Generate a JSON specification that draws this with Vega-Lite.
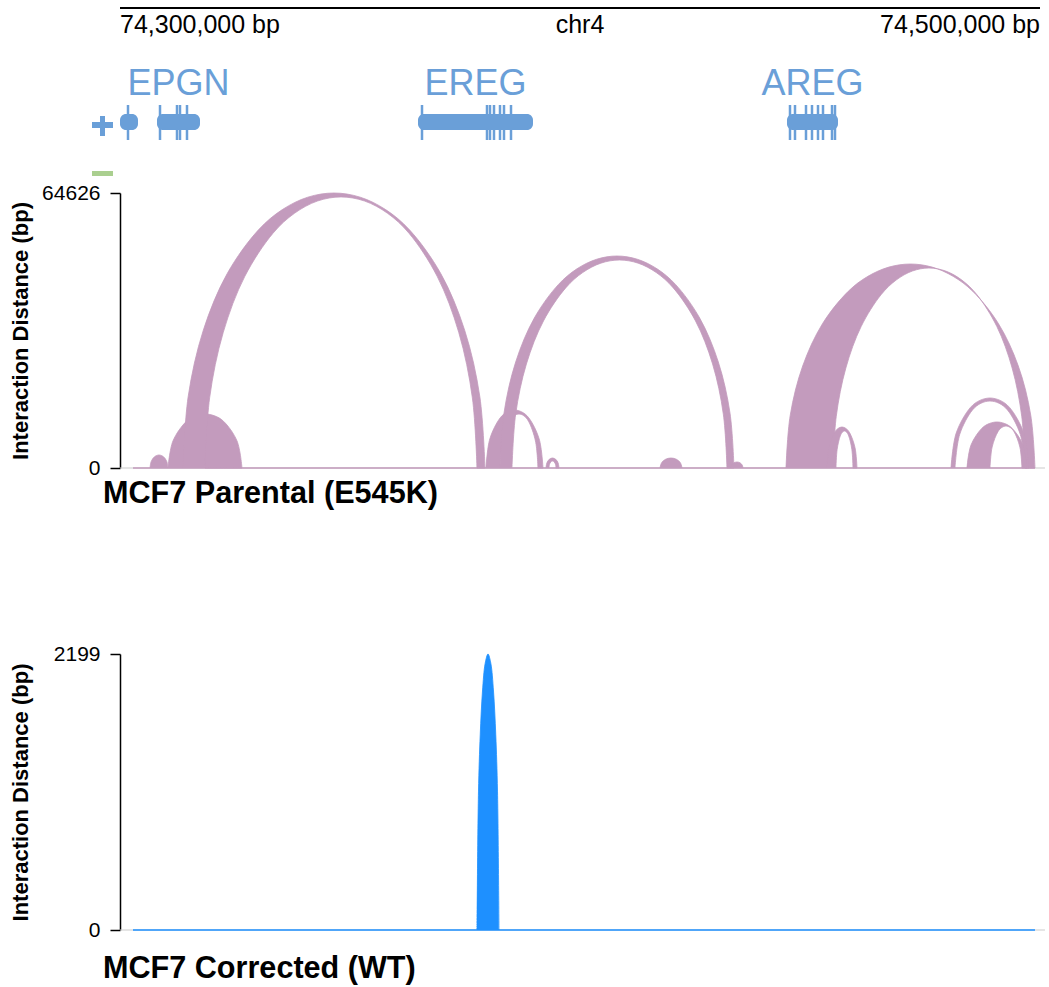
{
  "$schema": "https://vega.github.io/schema/vega-lite/v6.json",
  "width": 920,
  "height": 987,
  "autosize": {"type": "none"},
  "padding": {"left": 120, "top": 0, "right": 9, "bottom": 0},
  "background": "white",
  "config": {"view": {"stroke": null}, "font": "Liberation Sans"},
  "datasets": {
    "header": [
      {"pos": 74300000, "label": "74,300,000 bp"},
      {"pos": 74400000, "label": "chr4"},
      {"pos": 74500000, "label": "74,500,000 bp"}
    ],
    "genes": [
      {"gene": "EPGN", "start": 74308043, "end": 74317391, "mid": 74312717},
      {"gene": "EREG", "start": 74364782, "end": 74389782, "mid": 74377282},
      {"gene": "AREG", "start": 74444999, "end": 74456086, "mid": 74450543}
    ],
    "bodies": [
      {"start": 74300000, "end": 74303913},
      {"start": 74308043, "end": 74317391},
      {"start": 74364782, "end": 74389782},
      {"start": 74444999, "end": 74456086}
    ],
    "exonLines": [
      {"pos": 74301739}, {"pos": 74308696}, {"pos": 74312391}, {"pos": 74313043}, {"pos": 74314565},
      {"pos": 74365652}, {"pos": 74379782}, {"pos": 74380434}, {"pos": 74381304}, {"pos": 74382608}, {"pos": 74383478}, {"pos": 74385000},
      {"pos": 74445651}, {"pos": 74446738}, {"pos": 74449130}, {"pos": 74450434}, {"pos": 74451738}, {"pos": 74452826}, {"pos": 74454782}, {"pos": 74455434}
    ],
    "extras": [
      {"kind": "plus-h", "start": 74293913, "end": 74298478},
      {"kind": "plus-v", "start": 74295652, "end": 74296739},
      {"kind": "region", "start": 74293913, "end": 74298478}
    ],
    "baselines": [
      {"track": "parental", "start": 74302826, "end": 74498912},
      {"track": "corrected", "start": 74302826, "end": 74498912}
    ],
    "parental": [
      {"link": "a0", "pos": 74306521, "dist": 0}, {"link": "a0", "pos": 74306784, "dist": 1528}, {"link": "a0", "pos": 74307500, "dist": 2646}, {"link": "a0", "pos": 74308478, "dist": 3055}, {"link": "a0", "pos": 74309456, "dist": 2646}, {"link": "a0", "pos": 74310172, "dist": 1528}, {"link": "a0", "pos": 74310435, "dist": 0},

      {"link": "b", "pos": 74310435, "dist": 0}, {"link": "b", "pos": 74311512, "dist": 6345}, {"link": "b", "pos": 74314456, "dist": 10990}, {"link": "b", "pos": 74316396, "dist": 12257}, {"link": "b", "pos": 74318478, "dist": 12690}, {"link": "b", "pos": 74320560, "dist": 12257}, {"link": "b", "pos": 74322500, "dist": 10990}, {"link": "b", "pos": 74325444, "dist": 6345}, {"link": "b", "pos": 74326521, "dist": 0}, {"link": "b", "pos": 74326521, "dist": 0},
      {"link": "b", "pos": 74318479, "dist": 0}, {"link": "b", "pos": 74318479, "dist": 0}, {"link": "b", "pos": 74318173, "dist": 5640}, {"link": "b", "pos": 74317337, "dist": 9768}, {"link": "b", "pos": 74316787, "dist": 10895}, {"link": "b", "pos": 74316196, "dist": 11280}, {"link": "b", "pos": 74315605, "dist": 10895}, {"link": "b", "pos": 74315055, "dist": 9768}, {"link": "b", "pos": 74314219, "dist": 5640}, {"link": "b", "pos": 74313913, "dist": 0},

      {"link": "a1", "pos": 74313694, "dist": 0}, {"link": "a1", "pos": 74314813, "dist": 16725}, {"link": "a1", "pos": 74318093, "dist": 32313}, {"link": "a1", "pos": 74323309, "dist": 45697}, {"link": "a1", "pos": 74330107, "dist": 55966}, {"link": "a1", "pos": 74335294, "dist": 60729}, {"link": "a1", "pos": 74340821, "dist": 63644}, {"link": "a1", "pos": 74346520, "dist": 64626}, {"link": "a1", "pos": 74352219, "dist": 63644}, {"link": "a1", "pos": 74357746, "dist": 60729}, {"link": "a1", "pos": 74362933, "dist": 55966}, {"link": "a1", "pos": 74369731, "dist": 45697}, {"link": "a1", "pos": 74374947, "dist": 32313}, {"link": "a1", "pos": 74378227, "dist": 16725}, {"link": "a1", "pos": 74379346, "dist": 0}, {"link": "a1", "pos": 74379346, "dist": 0},
      {"link": "a1", "pos": 74377608, "dist": 0}, {"link": "a1", "pos": 74377608, "dist": 0}, {"link": "a1", "pos": 74376600, "dist": 16486}, {"link": "a1", "pos": 74373646, "dist": 31850}, {"link": "a1", "pos": 74368948, "dist": 45042}, {"link": "a1", "pos": 74362826, "dist": 55164}, {"link": "a1", "pos": 74358154, "dist": 59859}, {"link": "a1", "pos": 74353176, "dist": 62732}, {"link": "a1", "pos": 74348043, "dist": 63700}, {"link": "a1", "pos": 74342910, "dist": 62732}, {"link": "a1", "pos": 74337932, "dist": 59859}, {"link": "a1", "pos": 74333260, "dist": 55164}, {"link": "a1", "pos": 74327138, "dist": 45042}, {"link": "a1", "pos": 74322440, "dist": 31850}, {"link": "a1", "pos": 74319486, "dist": 16486}, {"link": "a1", "pos": 74318478, "dist": 0},

      {"link": "c", "pos": 74379564, "dist": 0}, {"link": "c", "pos": 74380394, "dist": 6815}, {"link": "c", "pos": 74382662, "dist": 11804}, {"link": "c", "pos": 74384157, "dist": 13165}, {"link": "c", "pos": 74385760, "dist": 13630}, {"link": "c", "pos": 74387363, "dist": 13165}, {"link": "c", "pos": 74388858, "dist": 11804}, {"link": "c", "pos": 74391126, "dist": 6815}, {"link": "c", "pos": 74391956, "dist": 0}, {"link": "c", "pos": 74391956, "dist": 0},
      {"link": "c", "pos": 74390869, "dist": 0}, {"link": "c", "pos": 74390869, "dist": 0}, {"link": "c", "pos": 74390316, "dist": 6345}, {"link": "c", "pos": 74388804, "dist": 10990}, {"link": "c", "pos": 74387808, "dist": 12257}, {"link": "c", "pos": 74386739, "dist": 12690}, {"link": "c", "pos": 74385670, "dist": 12257}, {"link": "c", "pos": 74384674, "dist": 10990}, {"link": "c", "pos": 74383162, "dist": 6345}, {"link": "c", "pos": 74382609, "dist": 0},

      {"link": "a2", "pos": 74382608, "dist": 0}, {"link": "a2", "pos": 74383475, "dist": 12893}, {"link": "a2", "pos": 74386016, "dist": 24910}, {"link": "a2", "pos": 74390058, "dist": 35228}, {"link": "a2", "pos": 74395326, "dist": 43144}, {"link": "a2", "pos": 74399344, "dist": 46816}, {"link": "a2", "pos": 74403627, "dist": 49063}, {"link": "a2", "pos": 74408043, "dist": 49820}, {"link": "a2", "pos": 74412459, "dist": 49063}, {"link": "a2", "pos": 74416742, "dist": 46816}, {"link": "a2", "pos": 74420760, "dist": 43144}, {"link": "a2", "pos": 74426028, "dist": 35228}, {"link": "a2", "pos": 74430070, "dist": 24910}, {"link": "a2", "pos": 74432611, "dist": 12893}, {"link": "a2", "pos": 74433478, "dist": 0}, {"link": "a2", "pos": 74433478, "dist": 0},
      {"link": "a2", "pos": 74431955, "dist": 0}, {"link": "a2", "pos": 74431955, "dist": 0}, {"link": "a2", "pos": 74431158, "dist": 12650}, {"link": "a2", "pos": 74428824, "dist": 24440}, {"link": "a2", "pos": 74425110, "dist": 34563}, {"link": "a2", "pos": 74420271, "dist": 42330}, {"link": "a2", "pos": 74416578, "dist": 45933}, {"link": "a2", "pos": 74412643, "dist": 48137}, {"link": "a2", "pos": 74408586, "dist": 48880}, {"link": "a2", "pos": 74404529, "dist": 48137}, {"link": "a2", "pos": 74400594, "dist": 45933}, {"link": "a2", "pos": 74396901, "dist": 42330}, {"link": "a2", "pos": 74392062, "dist": 34563}, {"link": "a2", "pos": 74388348, "dist": 24440}, {"link": "a2", "pos": 74386014, "dist": 12650}, {"link": "a2", "pos": 74385217, "dist": 0},

      {"link": "d", "pos": 74392608, "dist": 0}, {"link": "d", "pos": 74392797, "dist": 1175}, {"link": "d", "pos": 74393314, "dist": 2035}, {"link": "d", "pos": 74394021, "dist": 2350}, {"link": "d", "pos": 74394728, "dist": 2035}, {"link": "d", "pos": 74395245, "dist": 1175}, {"link": "d", "pos": 74395434, "dist": 0}, {"link": "d", "pos": 74395434, "dist": 0},
      {"link": "d", "pos": 74394782, "dist": 0}, {"link": "d", "pos": 74394782, "dist": 0}, {"link": "d", "pos": 74394680, "dist": 823}, {"link": "d", "pos": 74394401, "dist": 1425}, {"link": "d", "pos": 74394021, "dist": 1645}, {"link": "d", "pos": 74393641, "dist": 1425}, {"link": "d", "pos": 74393362, "dist": 823}, {"link": "d", "pos": 74393260, "dist": 0},

      {"link": "e", "pos": 74417391, "dist": 0}, {"link": "e", "pos": 74417711, "dist": 1175}, {"link": "e", "pos": 74418586, "dist": 2035}, {"link": "e", "pos": 74419782, "dist": 2350}, {"link": "e", "pos": 74420978, "dist": 2035}, {"link": "e", "pos": 74421853, "dist": 1175}, {"link": "e", "pos": 74422173, "dist": 0},

      {"link": "f", "pos": 74432826, "dist": 0}, {"link": "f", "pos": 74433001, "dist": 705}, {"link": "f", "pos": 74433478, "dist": 1221}, {"link": "f", "pos": 74434130, "dist": 1410}, {"link": "f", "pos": 74434782, "dist": 1221}, {"link": "f", "pos": 74435259, "dist": 705}, {"link": "f", "pos": 74435434, "dist": 0},

      {"link": "a3", "pos": 74444782, "dist": 0}, {"link": "a3", "pos": 74445705, "dist": 12407}, {"link": "a3", "pos": 74448409, "dist": 23970}, {"link": "a3", "pos": 74452709, "dist": 33898}, {"link": "a3", "pos": 74458314, "dist": 41516}, {"link": "a3", "pos": 74462591, "dist": 45049}, {"link": "a3", "pos": 74467148, "dist": 47211}, {"link": "a3", "pos": 74471847, "dist": 47940}, {"link": "a3", "pos": 74476546, "dist": 47211}, {"link": "a3", "pos": 74481103, "dist": 45049}, {"link": "a3", "pos": 74485380, "dist": 41516}, {"link": "a3", "pos": 74490985, "dist": 33898}, {"link": "a3", "pos": 74495285, "dist": 23970}, {"link": "a3", "pos": 74497989, "dist": 12407}, {"link": "a3", "pos": 74498912, "dist": 0}, {"link": "a3", "pos": 74498912, "dist": 0},
      {"link": "a3", "pos": 74496738, "dist": 0}, {"link": "a3", "pos": 74496738, "dist": 0}, {"link": "a3", "pos": 74496026, "dist": 12164}, {"link": "a3", "pos": 74493942, "dist": 23500}, {"link": "a3", "pos": 74490626, "dist": 33234}, {"link": "a3", "pos": 74486304, "dist": 40702}, {"link": "a3", "pos": 74483006, "dist": 44166}, {"link": "a3", "pos": 74479492, "dist": 46286}, {"link": "a3", "pos": 74475869, "dist": 47000}, {"link": "a3", "pos": 74472246, "dist": 46286}, {"link": "a3", "pos": 74468732, "dist": 44166}, {"link": "a3", "pos": 74465434, "dist": 40702}, {"link": "a3", "pos": 74461112, "dist": 33234}, {"link": "a3", "pos": 74457796, "dist": 23500}, {"link": "a3", "pos": 74455712, "dist": 12164}, {"link": "a3", "pos": 74455000, "dist": 0},

      {"link": "g", "pos": 74453695, "dist": 0}, {"link": "g", "pos": 74454132, "dist": 4818}, {"link": "g", "pos": 74455326, "dist": 8344}, {"link": "g", "pos": 74456112, "dist": 9306}, {"link": "g", "pos": 74456956, "dist": 9635}, {"link": "g", "pos": 74457800, "dist": 9306}, {"link": "g", "pos": 74458586, "dist": 8344}, {"link": "g", "pos": 74459780, "dist": 4818}, {"link": "g", "pos": 74460217, "dist": 0}, {"link": "g", "pos": 74460217, "dist": 0},
      {"link": "g", "pos": 74459347, "dist": 0}, {"link": "g", "pos": 74459347, "dist": 0}, {"link": "g", "pos": 74459099, "dist": 4348}, {"link": "g", "pos": 74458423, "dist": 7530}, {"link": "g", "pos": 74457977, "dist": 8399}, {"link": "g", "pos": 74457499, "dist": 8695}, {"link": "g", "pos": 74457021, "dist": 8399}, {"link": "g", "pos": 74456575, "dist": 7530}, {"link": "g", "pos": 74455899, "dist": 4348}, {"link": "g", "pos": 74455651, "dist": 0},

      {"link": "h", "pos": 74480651, "dist": 0}, {"link": "h", "pos": 74481787, "dist": 8225}, {"link": "h", "pos": 74484890, "dist": 14246}, {"link": "h", "pos": 74486935, "dist": 15889}, {"link": "h", "pos": 74489129, "dist": 16450}, {"link": "h", "pos": 74491323, "dist": 15889}, {"link": "h", "pos": 74493368, "dist": 14246}, {"link": "h", "pos": 74496471, "dist": 8225}, {"link": "h", "pos": 74497607, "dist": 0}, {"link": "h", "pos": 74497607, "dist": 0},
      {"link": "h", "pos": 74496738, "dist": 0}, {"link": "h", "pos": 74496738, "dist": 0}, {"link": "h", "pos": 74495718, "dist": 7873}, {"link": "h", "pos": 74492933, "dist": 13635}, {"link": "h", "pos": 74491098, "dist": 15208}, {"link": "h", "pos": 74489129, "dist": 15745}, {"link": "h", "pos": 74487160, "dist": 15208}, {"link": "h", "pos": 74485325, "dist": 13635}, {"link": "h", "pos": 74482540, "dist": 7873}, {"link": "h", "pos": 74481520, "dist": 0},

      {"link": "i", "pos": 74484129, "dist": 0}, {"link": "i", "pos": 74485003, "dist": 5405}, {"link": "i", "pos": 74487390, "dist": 9361}, {"link": "i", "pos": 74488963, "dist": 10441}, {"link": "i", "pos": 74490651, "dist": 10810}, {"link": "i", "pos": 74492339, "dist": 10441}, {"link": "i", "pos": 74493912, "dist": 9361}, {"link": "i", "pos": 74496299, "dist": 5405}, {"link": "i", "pos": 74497173, "dist": 0}, {"link": "i", "pos": 74497173, "dist": 0},
      {"link": "i", "pos": 74496086, "dist": 0}, {"link": "i", "pos": 74496086, "dist": 0}, {"link": "i", "pos": 74495620, "dist": 4935}, {"link": "i", "pos": 74494347, "dist": 8547}, {"link": "i", "pos": 74493508, "dist": 9533}, {"link": "i", "pos": 74492608, "dist": 9870}, {"link": "i", "pos": 74491708, "dist": 9533}, {"link": "i", "pos": 74490869, "dist": 8547}, {"link": "i", "pos": 74489596, "dist": 4935}, {"link": "i", "pos": 74489130, "dist": 0}
    ],
    "corrected": [
      {"link": "s", "pos": 74377609, "dist": 0}, {"link": "s", "pos": 74377929, "dist": 1100}, {"link": "s", "pos": 74378309, "dist": 1555}, {"link": "s", "pos": 74378804, "dist": 1904}, {"link": "s", "pos": 74379381, "dist": 2124}, {"link": "s", "pos": 74380000, "dist": 2199}, {"link": "s", "pos": 74380619, "dist": 2124}, {"link": "s", "pos": 74381196, "dist": 1904}, {"link": "s", "pos": 74381691, "dist": 1555}, {"link": "s", "pos": 74382071, "dist": 1100}, {"link": "s", "pos": 74382391, "dist": 0}
    ]
  },
  "layer": [
    {
      "layer": [
        {
          "data": {"values": [{}]},
          "mark": {"type": "rule", "color": "#000000", "strokeWidth": 2},
          "encoding": {
            "x": {"datum": 74300000, "type": "quantitative", "scale": {"domain": [74300000, 74500000], "nice": false, "zero": false}, "axis": null},
            "x2": {"datum": 74500000},
            "y": {"datum": 8, "type": "quantitative", "scale": {"domain": [0, 987], "range": [0, 987], "nice": false, "zero": false}, "axis": null}
          }
        },
        {
          "data": {"name": "header"},
          "transform": [{"filter": "datum.pos == 74300000"}],
          "mark": {"type": "text", "align": "left", "baseline": "alphabetic", "fontSize": 25, "color": "#000000"},
          "encoding": {
            "x": {"field": "pos", "type": "quantitative", "scale": {"domain": [74300000, 74500000], "nice": false, "zero": false}, "axis": null},
            "y": {"datum": 33, "type": "quantitative", "scale": {"domain": [0, 987], "range": [0, 987], "nice": false, "zero": false}, "axis": null},
            "text": {"field": "label"}
          }
        },
        {
          "data": {"name": "header"},
          "transform": [{"filter": "datum.pos == 74400000"}],
          "mark": {"type": "text", "align": "center", "baseline": "alphabetic", "fontSize": 25, "color": "#000000"},
          "encoding": {
            "x": {"field": "pos", "type": "quantitative", "scale": {"domain": [74300000, 74500000], "nice": false, "zero": false}, "axis": null},
            "y": {"datum": 33, "type": "quantitative", "scale": {"domain": [0, 987], "range": [0, 987], "nice": false, "zero": false}, "axis": null},
            "text": {"field": "label"}
          }
        },
        {
          "data": {"name": "header"},
          "transform": [{"filter": "datum.pos == 74500000"}],
          "mark": {"type": "text", "align": "right", "baseline": "alphabetic", "fontSize": 25, "color": "#000000"},
          "encoding": {
            "x": {"field": "pos", "type": "quantitative", "scale": {"domain": [74300000, 74500000], "nice": false, "zero": false}, "axis": null},
            "y": {"datum": 33, "type": "quantitative", "scale": {"domain": [0, 987], "range": [0, 987], "nice": false, "zero": false}, "axis": null},
            "text": {"field": "label"}
          }
        },
        {
          "data": {"name": "genes"},
          "mark": {"type": "text", "align": "center", "baseline": "alphabetic", "fontSize": 36, "color": "#6a9fd8"},
          "encoding": {
            "x": {"field": "mid", "type": "quantitative", "scale": {"domain": [74300000, 74500000], "nice": false, "zero": false}, "axis": null},
            "y": {"datum": 95, "type": "quantitative", "scale": {"domain": [0, 987], "range": [0, 987], "nice": false, "zero": false}, "axis": null},
            "text": {"field": "gene"}
          }
        },
        {
          "data": {"name": "exonLines"},
          "mark": {"type": "rule", "color": "#6a9fd8", "strokeWidth": 2.5},
          "encoding": {
            "x": {"field": "pos", "type": "quantitative", "scale": {"domain": [74300000, 74500000], "nice": false, "zero": false}, "axis": null},
            "y": {"datum": 105, "type": "quantitative", "scale": {"domain": [0, 987], "range": [0, 987], "nice": false, "zero": false}, "axis": null},
            "y2": {"datum": 140}
          }
        },
        {
          "data": {"name": "bodies"},
          "mark": {"type": "rect", "color": "#6a9fd8", "cornerRadius": 6},
          "encoding": {
            "x": {"field": "start", "type": "quantitative", "scale": {"domain": [74300000, 74500000], "nice": false, "zero": false}, "axis": null},
            "x2": {"field": "end"},
            "y": {"datum": 114, "type": "quantitative", "scale": {"domain": [0, 987], "range": [0, 987], "nice": false, "zero": false}, "axis": null},
            "y2": {"datum": 130}
          }
        },
        {
          "data": {"name": "extras"},
          "transform": [{"filter": "datum.kind == 'plus-h'"}],
          "mark": {"type": "rect", "color": "#6a9fd8"},
          "encoding": {
            "x": {"field": "start", "type": "quantitative", "scale": {"domain": [74300000, 74500000], "nice": false, "zero": false}, "axis": null},
            "x2": {"field": "end"},
            "y": {"datum": 122, "type": "quantitative", "scale": {"domain": [0, 987], "range": [0, 987], "nice": false, "zero": false}, "axis": null},
            "y2": {"datum": 128}
          }
        },
        {
          "data": {"name": "extras"},
          "transform": [{"filter": "datum.kind == 'plus-v'"}],
          "mark": {"type": "rect", "color": "#6a9fd8"},
          "encoding": {
            "x": {"field": "start", "type": "quantitative", "scale": {"domain": [74300000, 74500000], "nice": false, "zero": false}, "axis": null},
            "x2": {"field": "end"},
            "y": {"datum": 116, "type": "quantitative", "scale": {"domain": [0, 987], "range": [0, 987], "nice": false, "zero": false}, "axis": null},
            "y2": {"datum": 136}
          }
        },
        {
          "data": {"name": "extras"},
          "transform": [{"filter": "datum.kind == 'region'"}],
          "mark": {"type": "rect", "color": "#aacf8f"},
          "encoding": {
            "x": {"field": "start", "type": "quantitative", "scale": {"domain": [74300000, 74500000], "nice": false, "zero": false}, "axis": null},
            "x2": {"field": "end"},
            "y": {"datum": 171, "type": "quantitative", "scale": {"domain": [0, 987], "range": [0, 987], "nice": false, "zero": false}, "axis": null},
            "y2": {"datum": 176}
          }
        },
        {
          "data": {"values": [{}]},
          "mark": {"type": "text", "text": "MCF7 Parental (E545K)", "align": "left", "baseline": "alphabetic", "fontSize": 30.6, "fontWeight": "bold", "color": "#000000"},
          "encoding": {
            "x": {"datum": 74296304, "type": "quantitative", "scale": {"domain": [74300000, 74500000], "nice": false, "zero": false}, "axis": null},
            "y": {"datum": 503, "type": "quantitative", "scale": {"domain": [0, 987], "range": [0, 987], "nice": false, "zero": false}, "axis": null}
          }
        },
        {
          "data": {"values": [{}]},
          "mark": {"type": "text", "text": "MCF7 Corrected (WT)", "align": "left", "baseline": "alphabetic", "fontSize": 30.6, "fontWeight": "bold", "color": "#000000"},
          "encoding": {
            "x": {"datum": 74296304, "type": "quantitative", "scale": {"domain": [74300000, 74500000], "nice": false, "zero": false}, "axis": null},
            "y": {"datum": 978, "type": "quantitative", "scale": {"domain": [0, 987], "range": [0, 987], "nice": false, "zero": false}, "axis": null}
          }
        }
      ]
    },
    {
      "layer": [
        {
          "data": {"values": [{}]},
          "mark": {"type": "rule", "color": "#cccccc", "strokeWidth": 1.2},
          "encoding": {
            "x": {"datum": 74300000, "type": "quantitative", "scale": {"domain": [74300000, 74500000], "nice": false, "zero": false}, "axis": null},
            "x2": {"datum": 74501086},
            "y": {"datum": 0, "type": "quantitative", "scale": {"domain": [0, 64626], "range": [468, 193], "nice": false, "zero": false},
              "axis": {"orient": "left", "values": [0, 64626], "format": "d", "title": "Interaction Distance (bp)", "grid": false, "tickSize": 10, "tickWidth": 1.5, "tickColor": "#000000", "domainColor": "#000000", "domainWidth": 1.5, "labelFont": "Liberation Sans", "labelFontSize": 21, "labelColor": "#000000", "labelPadding": 10, "titleFont": "Liberation Sans", "titleFontSize": 22, "titleFontWeight": "bold", "titleColor": "#000000", "titleX": -93, "titleBaseline": "alphabetic"}}
          }
        },
        {
          "data": {"name": "baselines"},
          "transform": [{"filter": "datum.track == 'parental'"}],
          "mark": {"type": "rule", "color": "#c39bbd", "strokeWidth": 1.5},
          "encoding": {
            "x": {"field": "start", "type": "quantitative", "scale": {"domain": [74300000, 74500000], "nice": false, "zero": false}, "axis": null},
            "x2": {"field": "end"},
            "y": {"datum": 0, "type": "quantitative", "scale": {"domain": [0, 64626], "range": [468, 193], "nice": false, "zero": false},
              "axis": {"orient": "left", "values": [0, 64626], "format": "d", "title": "Interaction Distance (bp)", "grid": false, "tickSize": 10, "tickWidth": 1.5, "tickColor": "#000000", "domainColor": "#000000", "domainWidth": 1.5, "labelFont": "Liberation Sans", "labelFontSize": 21, "labelColor": "#000000", "labelPadding": 10, "titleFont": "Liberation Sans", "titleFontSize": 22, "titleFontWeight": "bold", "titleColor": "#000000", "titleX": -93, "titleBaseline": "alphabetic"}}
          }
        },
        {
          "data": {"name": "parental"},
          "mark": {"type": "line", "filled": true, "fill": "#c39bbd", "stroke": "#c39bbd", "strokeWidth": 0.8, "interpolate": "catmull-rom"},
          "encoding": {
            "x": {"field": "pos", "type": "quantitative", "scale": {"domain": [74300000, 74500000], "nice": false, "zero": false}, "axis": null},
            "y": {"field": "dist", "type": "quantitative", "scale": {"domain": [0, 64626], "range": [468, 193], "nice": false, "zero": false},
              "axis": {"orient": "left", "values": [0, 64626], "format": "d", "title": "Interaction Distance (bp)", "grid": false, "tickSize": 10, "tickWidth": 1.5, "tickColor": "#000000", "domainColor": "#000000", "domainWidth": 1.5, "labelFont": "Liberation Sans", "labelFontSize": 21, "labelColor": "#000000", "labelPadding": 10, "titleFont": "Liberation Sans", "titleFontSize": 22, "titleFontWeight": "bold", "titleColor": "#000000", "titleX": -93, "titleBaseline": "alphabetic"}},
            "detail": {"field": "link", "type": "nominal"},
            "order": {"value": null}
          }
        }
      ]
    },
    {
      "layer": [
        {
          "data": {"values": [{}]},
          "mark": {"type": "rule", "color": "#cccccc", "strokeWidth": 1.2},
          "encoding": {
            "x": {"datum": 74300000, "type": "quantitative", "scale": {"domain": [74300000, 74500000], "nice": false, "zero": false}, "axis": null},
            "x2": {"datum": 74501086},
            "y": {"datum": 0, "type": "quantitative", "scale": {"domain": [0, 2199], "range": [930, 654], "nice": false, "zero": false},
              "axis": {"orient": "left", "values": [0, 2199], "format": "d", "title": "Interaction Distance (bp)", "grid": false, "tickSize": 10, "tickWidth": 1.5, "tickColor": "#000000", "domainColor": "#000000", "domainWidth": 1.5, "labelFont": "Liberation Sans", "labelFontSize": 21, "labelColor": "#000000", "labelPadding": 10, "titleFont": "Liberation Sans", "titleFontSize": 22, "titleFontWeight": "bold", "titleColor": "#000000", "titleX": -93, "titleBaseline": "alphabetic"}}
          }
        },
        {
          "data": {"name": "baselines"},
          "transform": [{"filter": "datum.track == 'corrected'"}],
          "mark": {"type": "rule", "color": "#1e90ff", "strokeWidth": 1.5},
          "encoding": {
            "x": {"field": "start", "type": "quantitative", "scale": {"domain": [74300000, 74500000], "nice": false, "zero": false}, "axis": null},
            "x2": {"field": "end"},
            "y": {"datum": 0, "type": "quantitative", "scale": {"domain": [0, 2199], "range": [930, 654], "nice": false, "zero": false},
              "axis": {"orient": "left", "values": [0, 2199], "format": "d", "title": "Interaction Distance (bp)", "grid": false, "tickSize": 10, "tickWidth": 1.5, "tickColor": "#000000", "domainColor": "#000000", "domainWidth": 1.5, "labelFont": "Liberation Sans", "labelFontSize": 21, "labelColor": "#000000", "labelPadding": 10, "titleFont": "Liberation Sans", "titleFontSize": 22, "titleFontWeight": "bold", "titleColor": "#000000", "titleX": -93, "titleBaseline": "alphabetic"}}
          }
        },
        {
          "data": {"name": "corrected"},
          "mark": {"type": "line", "filled": true, "fill": "#1e90ff", "stroke": "#1e90ff", "strokeWidth": 0.8, "interpolate": "catmull-rom"},
          "encoding": {
            "x": {"field": "pos", "type": "quantitative", "scale": {"domain": [74300000, 74500000], "nice": false, "zero": false}, "axis": null},
            "y": {"field": "dist", "type": "quantitative", "scale": {"domain": [0, 2199], "range": [930, 654], "nice": false, "zero": false},
              "axis": {"orient": "left", "values": [0, 2199], "format": "d", "title": "Interaction Distance (bp)", "grid": false, "tickSize": 10, "tickWidth": 1.5, "tickColor": "#000000", "domainColor": "#000000", "domainWidth": 1.5, "labelFont": "Liberation Sans", "labelFontSize": 21, "labelColor": "#000000", "labelPadding": 10, "titleFont": "Liberation Sans", "titleFontSize": 22, "titleFontWeight": "bold", "titleColor": "#000000", "titleX": -93, "titleBaseline": "alphabetic"}},
            "detail": {"field": "link", "type": "nominal"},
            "order": {"value": null}
          }
        }
      ]
    }
  ],
  "resolve": {"scale": {"y": "independent"}, "axis": {"y": "independent"}}
}
